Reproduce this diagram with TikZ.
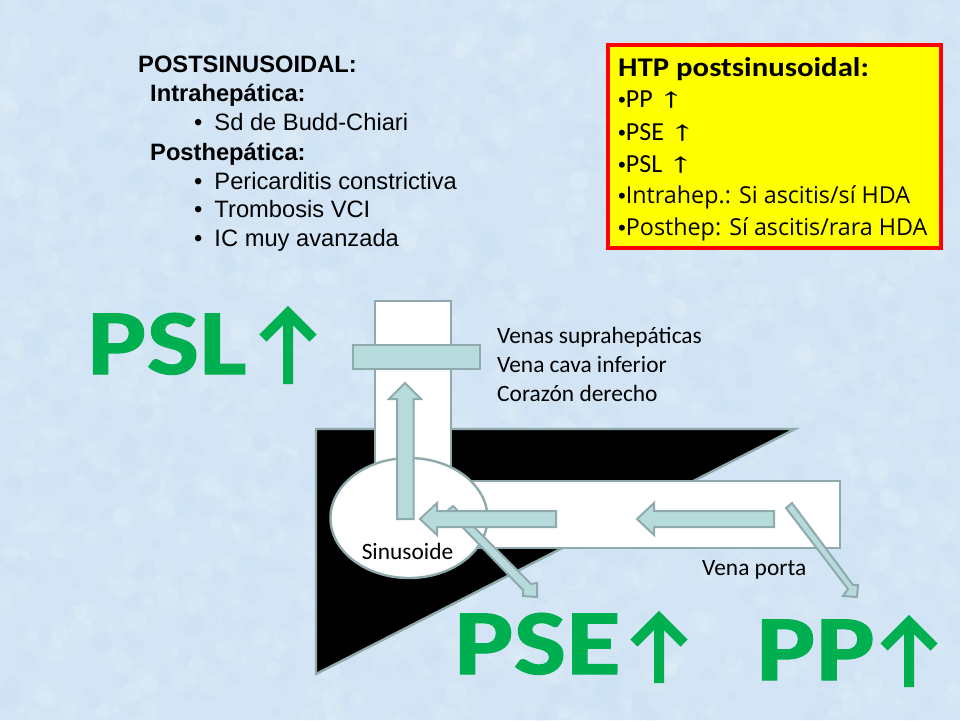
\documentclass[tikz,border=0pt]{standalone}
\usepackage{fontspec}
\usetikzlibrary{shapes.geometric}
\setmainfont{Carlito}
\newfontfamily\arialfont{Liberation Sans}
\newfontfamily\bigfont[FakeStretch=1.2,FakeBold=1.2]{Carlito}
\newfontfamily\headfont[FakeStretch=1.14]{Carlito}
\newfontfamily\boxfont{Open Sans}
\newfontfamily\upfont[FakeStretch=1.8]{Liberation Sans}
\definecolor{paleblue}{HTML}{D3E5F5}
\definecolor{dabblue}{HTML}{BCD8F2}
\definecolor{tealline}{HTML}{8FAAAC}
\definecolor{tealfill}{HTML}{B7DBDC}
\definecolor{biggreen}{HTML}{00B050}
\definecolor{boxyellow}{HTML}{FFFF00}
\definecolor{boxred}{HTML}{FF0000}
\newcommand{\boxbullet}{{\arialfont\fontsize{22}{22}\selectfont•}}
\newcommand{\thinup}{{\upfont\fontsize{28}{28}\selectfont↑}}
\tikzset{
  tube/.style={draw=tealline,line width=2.4pt,fill=white},
  flecha/.style={draw=tealline,line width=2pt,fill=tealfill,line join=miter},
  biglabel/.style={text=biggreen,font=\bigfont\fontsize{93}{93}\selectfont\bfseries,anchor=base west,inner sep=0pt},
  upmark/.style={biggreen,line width=10pt,line join=miter},
  rotulo/.style={font=\fontsize{23.4}{23.4}\selectfont,anchor=base west,inner sep=0pt},
  listtext/.style={font=\arialfont\fontsize{23.7}{23.7}\selectfont,anchor=base west,inner sep=0pt},
  listhead/.style={font=\arialfont\bfseries\fontsize{23.7}{23.7}\selectfont,anchor=base west,inner sep=0pt},
  boxtext/.style={font=\fontsize{26}{26}\selectfont,anchor=base west,inner sep=0pt},
  boxlong/.style={font=\boxfont\fontsize{23.3}{23.3}\selectfont,anchor=base west,inner sep=0pt}
}
\begin{document}
\begin{tikzpicture}[x=1pt,y=-1pt]
\useasboundingbox (0,0) rectangle (960,720);
% Background
\fill[paleblue] (0,0) rectangle (960,720);
\pgfmathsetseed{7}
\foreach \i in {1,...,900}{
  \pgfmathsetmacro{\px}{960*rnd}
  \pgfmathsetmacro{\py}{720*rnd}
  \pgfmathsetmacro{\pr}{3+9*rnd}
  \fill[white,opacity=0.09] (\px,\py) circle (\pr);
  \pgfmathsetmacro{\qx}{960*rnd}
  \pgfmathsetmacro{\qy}{720*rnd}
  \fill[dabblue,opacity=0.09] (\qx,\qy) circle (\pr);
}

% Liver
\draw[draw=tealline,line width=2.4pt,fill=black] (316,429) -- (795,429) -- (316,674) -- cycle;

% Vessels
\draw[tube] (375,301) rectangle (451,480);
\draw[tube] (460,481) rectangle (840,548);
\node[tube,ellipse,minimum width=157pt,minimum height=120pt,inner sep=0pt] (sinusoide) at (409,518) {};
\draw[flecha,line width=2.4pt] (353,345) rectangle (480,369);

% Flow arrows
\draw[flecha] (453,506) -- (447,511) -- (523,590) -- (523,596) -- (537,597) -- (537,583) -- (531,584) -- cycle;
\draw[flecha] (792,503) -- (786,508) -- (848,589) -- (843,596) -- (857,597) -- (858,585) -- (853,585) -- cycle;
\draw[flecha] (397,519) -- (397,399) -- (389,399) -- (405,383) -- (421,399) -- (413.5,399) -- (413.5,519) -- cycle;
\draw[flecha] (556,511) -- (437,511) -- (437,503) -- (420,519) -- (437,535) -- (437,527) -- (556,527) -- cycle;
\draw[flecha] (774,511) -- (654,511) -- (654,503) -- (637,519) -- (654,535) -- (654,527) -- (774,527) -- cycle;

% Labels
\node[rotulo,anchor=base] (sinusoidetext) at (407.5,559) {Sinusoide};
\node[rotulo] (venas) at (497,343) {Venas suprahepáticas};
\node[rotulo] (cava) at (497,372) {Vena cava inferior};
\node[rotulo] (corazon) at (497,401) {Corazón derecho};
\node[rotulo] (porta) at (702,575) {Vena porta};

% Big labels
\node[biglabel] (psl) at (87,374) {PSL};
\node[biglabel] (pse) at (454,674) {PSE};
\node[biglabel] (pp) at (756,680) {PP};
\draw[upmark] (288,384) -- (288,313) (263,338) -- (288,313) -- (313,338);
\draw[upmark] (659,683) -- (659,618) (634,643) -- (659,618) -- (684,643);
\draw[upmark] (909,687) -- (909,622) (884,647) -- (909,622) -- (934,647);

% List
\node[listhead] (titulo) at (138,72) {POSTSINUSOIDAL:};
\node[listhead] (intra) at (150,101) {Intrahepática:};
\node[listtext] (bud) at (194,130) {•\hspace{12pt}Sd de Budd-Chiari};
\node[listhead] (post) at (150,160) {Posthepática:};
\node[listtext] (peri) at (194,189) {•\hspace{12pt}Pericarditis constrictiva};
\node[listtext] (trombo) at (194,217) {•\hspace{12pt}Trombosis VCI};
\node[listtext] (ic) at (194,246) {•\hspace{12pt}IC muy avanzada};

% Yellow box
\draw[draw=boxred,line width=4.5pt,fill=boxyellow] (608,45) rectangle (941,248);
\node[boxtext,font=\headfont\bfseries\fontsize{27}{27}\selectfont] (htp) at (618,76) {HTP postsinusoidal:};
\node[boxtext] (boxpp) at (618,107) {\boxbullet PP \thinup};
\node[boxtext] (boxpse) at (618,140) {\boxbullet PSE \thinup};
\node[boxtext] (boxpsl) at (618,172) {\boxbullet PSL \thinup};
\node[boxlong] (boxintra) at (618,203) {\boxbullet Intrahep.: Si ascitis/sí HDA};
\node[boxlong] (boxpost) at (618,235) {\boxbullet Posthep: Sí ascitis/rara HDA};
\end{tikzpicture}
\end{document}
